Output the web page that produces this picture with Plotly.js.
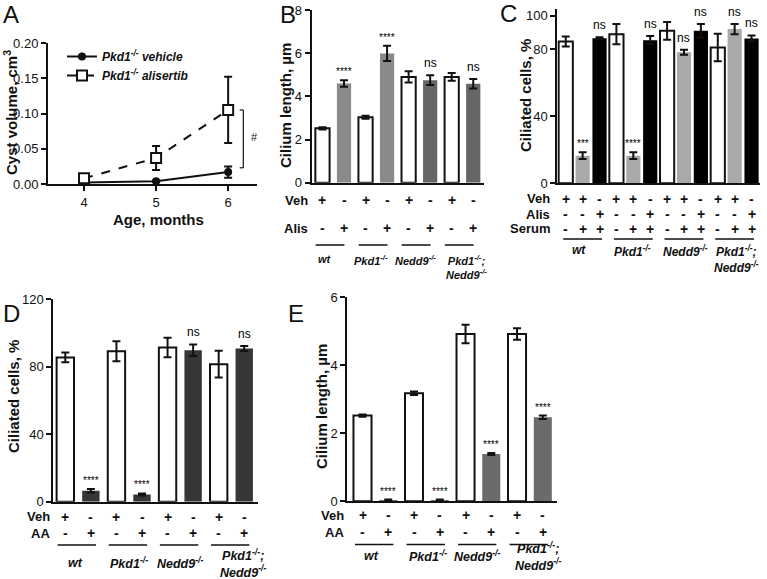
<!DOCTYPE html>
<html>
<head>
<meta charset="utf-8">
<script src="https://cdn.plot.ly/plotly-3.0.1.min.js"></script>
<style>html,body{margin:0;padding:0;background:#fff;}#chart{width:767px;height:579px;}</style>
</head>
<body>
<div id="chart"></div>
<script>
// ---------- DATA ----------
// Panel A: cyst volume over age
const ageMonths = [4, 5, 6];
const vehicleVol = [0.002, 0.004, 0.017];
const vehicleErr = [0.001, 0.001, 0.008];
const alisVol = [0.008, 0.037, 0.105];
const alisErr = [0.002, 0.017, 0.047];

// Group labels (shared)
const groupLabels = ['wt', 'Pkd1<sup>-/-</sup>', 'Nedd9<sup>-/-</sup>', 'Pkd1<sup>-/-</sup>;<br>Nedd9<sup>-/-</sup>'];

// Panel B: cilium length, Veh vs Alis
const bLen = [2.52, 4.60, 3.03, 5.99, 4.90, 4.75, 4.90, 4.58];
const bErr = [0.05, 0.15, 0.07, 0.35, 0.26, 0.23, 0.18, 0.22];
const bSig = ['', '****', '', '****', '', 'ns', '', 'ns'];
const pairVeh = ['+', '-', '+', '-', '+', '-', '+', '-'];
const pairTreat = ['-', '+', '-', '+', '-', '+', '-', '+'];

// Panel C: ciliated cells, Veh / Alis / Serum
const cPct = [84.6, 16.5, 86.6, 89.0, 16.5, 85.4, 91.0, 78.2, 91.0, 81.0, 92.0, 86.4];
const cErr = [3.0, 2.0, 0.5, 6.0, 2.0, 2.5, 5.3, 1.5, 4.0, 8.2, 3.0, 1.8];
const cSig = ['', '***', 'ns', '', '****', 'ns', '', 'ns', 'ns', '', 'ns', 'ns'];
const cVeh = ['+', '+', '-', '+', '+', '-', '+', '+', '-', '+', '+', '-'];
const cAlis = ['-', '-', '+', '-', '-', '+', '-', '-', '+', '-', '-', '+'];
const cSerum = ['-', '+', '+', '-', '+', '+', '-', '+', '+', '-', '+', '+'];

// Panel D: ciliated cells, Veh vs AA
const dPct = [85.4, 6.5, 89.1, 4.3, 91.3, 89.7, 81.4, 90.7];
const dErr = [2.9, 1.0, 5.9, 0.6, 5.8, 3.4, 7.9, 1.5];
const dSig = ['', '****', '', '****', '', 'ns', '', 'ns'];

// Panel E: cilium length, Veh vs AA
const eLen = [2.52, 0.04, 3.18, 0.04, 4.92, 1.39, 4.92, 2.47];
const eErr = [0.03, 0.01, 0.05, 0.01, 0.27, 0.03, 0.17, 0.05];
const eSig = ['', '****', '', '****', '', '****', '', '****'];

// ---------- LAYOUT HELPERS ----------
const W = 767, H = 579;
const X = p => p / W;
const Y = p => 1 - p / H;
const FONT = 'Liberation Sans, Arial, Helvetica, sans-serif';
const INK = '#111';

const traces = [];
const annotations = [];
const shapes = [];

function ann(o) {
  annotations.push(Object.assign({showarrow: false, xanchor: 'center', yanchor: 'middle',
    font: {family: FONT, size: 13, color: INK}}, o));
}

function yAxis(domain, range, tickvals, anchor, fmt) {
  return {
    domain: domain, range: range, anchor: anchor, tickvals: tickvals,
    tickformat: fmt || '', showline: true, linewidth: 2, linecolor: INK,
    ticks: 'outside', ticklen: 5, tickwidth: 2, tickcolor: INK,
    showgrid: false, zeroline: false, tickfont: {family: FONT, size: 13, color: INK},
    fixedrange: true
  };
}
function xAxis(domain, range, anchor) {
  return {
    domain: domain, range: range, anchor: anchor, showline: true, linewidth: 2,
    linecolor: INK, showticklabels: false, ticks: '', showgrid: false, zeroline: false,
    fixedrange: true
  };
}

// ---------- PANEL A ----------
traces.push({
  x: ageMonths, y: vehicleVol, xaxis: 'x', yaxis: 'y', type: 'scatter', mode: 'lines+markers',
  name: '<b><i>Pkd1<sup>-/-</sup> vehicle</i></b>',
  line: {color: INK, width: 2},
  marker: {symbol: 'circle', size: 8, color: INK},
  error_y: {type: 'data', array: vehicleErr, thickness: 2, width: 4, color: INK}
});
traces.push({
  x: ageMonths, y: alisVol, xaxis: 'x', yaxis: 'y', type: 'scatter', mode: 'lines+markers',
  name: '<b><i>Pkd1<sup>-/-</sup> alisertib</i></b>',
  line: {color: INK, width: 2, dash: 'dash'},
  marker: {symbol: 'square', size: 10, color: '#fff', line: {color: INK, width: 2}},
  error_y: {type: 'data', array: alisErr, thickness: 2, width: 4, color: INK}
});

const layout = {
  width: W, height: H, margin: {l: 0, r: 0, t: 0, b: 0},
  paper_bgcolor: '#fff', plot_bgcolor: 'rgba(0,0,0,0)',
  showlegend: true,
  legend: {x: X(62), y: Y(42), xanchor: 'left', yanchor: 'top', bgcolor: 'rgba(0,0,0,0)',
           font: {family: FONT, size: 12, color: INK}, itemwidth: 30, tracegroupgap: 0},
  xaxis: {domain: [X(48), X(257)], range: [3.5, 6.4], anchor: 'y', showline: true, linewidth: 2,
          linecolor: INK, ticks: 'outside', ticklen: 5, tickwidth: 2, tickcolor: INK, tickvals: ageMonths,
          showgrid: false, zeroline: false, tickfont: {family: FONT, size: 13, color: INK}},
  yaxis: yAxis([Y(184), Y(43)], [0, 0.2], [0, 0.05, 0.10, 0.15, 0.20], 'x', '.2f'),
};

// "#" bracket in panel A
const brTop = alisVol[2], brBot = vehicleVol[2] + vehicleErr[2] - 0.002;
shapes.push({type: 'line', xref: 'x', yref: 'y', x0: 6.21, x1: 6.21, y0: brTop, y1: brBot, line: {color: INK, width: 1.2}});
shapes.push({type: 'line', xref: 'x', yref: 'y', x0: 6.16, x1: 6.21, y0: brTop, y1: brTop, line: {color: INK, width: 1.2}});
shapes.push({type: 'line', xref: 'x', yref: 'y', x0: 6.16, x1: 6.21, y0: brBot, y1: brBot, line: {color: INK, width: 1.2}});
ann({xref: 'x', yref: 'y', x: 6.37, y: 0.066, text: '#', font: {family: FONT, size: 11, color: INK}});
ann({xref: 'paper', yref: 'paper', x: X(11), y: Y(113), text: '<b>Cyst volume, cm<sup>3</sup></b>', textangle: -90, font: {family: FONT, size: 15, color: INK}});
ann({xref: 'paper', yref: 'paper', x: X(158), y: Y(219), text: '<b>Age, months</b>', font: {family: FONT, size: 15, color: INK}});

// ---------- BAR PANEL BUILDER ----------
function barPanel(cfg) {
  const n = cfg.values.length;
  const xs = cfg.values.map((_, i) => i);
  traces.push({
    type: 'bar', x: xs, y: cfg.values, xaxis: cfg.xa, yaxis: cfg.ya, width: cfg.width,
    showlegend: false,
    marker: {color: xs.map(cfg.color), line: {color: xs.map(i => cfg.color(i) === '#fff' ? INK : cfg.color(i)), width: xs.map(i => cfg.color(i) === '#fff' ? 2 : 0)}},
    error_y: {type: 'data', array: cfg.errs, thickness: 2, width: cfg.capw || 4, color: INK}
  });
  const xref = cfg.xa;
  // significance labels
  cfg.sig.forEach((s, i) => {
    if (!s) return;
    const star = s.indexOf('*') >= 0;
    ann({xref: xref, yref: cfg.ya, x: i, y: cfg.values[i] + cfg.errs[i], yanchor: 'bottom', yshift: star ? 1 : 3,
         text: s, font: {family: FONT, size: star ? 10 : 12, color: '#000'}});
  });
  // sign rows
  cfg.rows.forEach(r => {
    ann({xref: 'paper', yref: 'paper', x: X(cfg.rowLabelX), y: Y(r.y), xanchor: 'right', text: '<b>' + r.label + '</b>'});
    r.signs.forEach((s, i) => {
      ann({xref: xref, yref: 'paper', x: i, y: Y(r.y), text: '<b>' + s + '</b>', font: {family: FONT, size: 14, color: INK}});
    });
  });
  // group lines and labels
  const per = n / 4;
  for (let g = 0; g < 4; g++) {
    shapes.push({type: 'line', xref: xref, yref: 'paper', x0: g * per + cfg.lineFrom, x1: g * per + cfg.lineTo,
                 y0: Y(cfg.lineY), y1: Y(cfg.lineY), line: {color: INK, width: 1.5}});
    ann({xref: xref, yref: 'paper', x: cfg.labelX[g], y: Y(cfg.labelY),
         yanchor: cfg.labelAnchor, text: '<b><i>' + groupLabels[g] + '</i></b>',
         font: {family: FONT, size: cfg.labelSize, color: INK}});
  }
}

// ---------- PANEL B ----------
layout.xaxis2 = xAxis([X(311.7), X(484)], [-0.5, 7.5], 'y2');
layout.yaxis2 = yAxis([Y(182.7), Y(10)], [0, 8], [0, 2, 4, 6, 8], 'x2');
barPanel({
  xa: 'x2', ya: 'y2', values: bLen, errs: bErr, sig: bSig, width: 0.66,
  color: i => i % 2 === 0 ? '#fff' : (i < 4 ? '#8a8a8a' : '#666'),
  rows: [{label: 'Veh', y: 200, signs: pairVeh}, {label: 'Alis', y: 228, signs: pairTreat}],
  rowLabelX: 310, lineY: 245, lineFrom: -0.32, lineTo: 1.02, labelY: 251, labelAnchor: 'top',
  labelX: [0.1, 2.25, 4.3, 6.7], labelSize: 11
});
ann({xref: 'paper', yref: 'paper', x: X(285), y: Y(106), text: '<b>Cilium length, \u00b5m</b>', textangle: -90, font: {family: FONT, size: 15, color: INK}});

// ---------- PANEL C ----------
layout.xaxis3 = xAxis([X(557.3), X(760)], [-0.5, 11.5], 'y3');
layout.yaxis3 = yAxis([Y(183.3), Y(9)], [0, 104], [0, 40, 80, 100], 'x3');
barPanel({
  xa: 'x3', ya: 'y3', values: cPct, errs: cErr, sig: cSig, width: 0.84,
  color: i => ['#fff', '#a9a9a9', '#000'][i % 3],
  rows: [{label: 'Veh', y: 199, signs: cVeh}, {label: 'Alis', y: 214, signs: cAlis}, {label: 'Serum', y: 229, signs: cSerum}],
  rowLabelX: 552, lineY: 239, lineFrom: -0.15, lineTo: 2.15, labelY: 241, labelAnchor: 'top',
  labelX: [0.76, 3.95, 7.1, 10.1], labelSize: 12
});
ann({xref: 'paper', yref: 'paper', x: X(525), y: Y(96), text: '<b>Ciliated cells, %</b>', textangle: -90, font: {family: FONT, size: 15, color: INK}});

// ---------- PANEL D ----------
layout.xaxis4 = xAxis([X(53.3), X(258.3)], [-0.47, 7.55], 'y4');
layout.yaxis4 = yAxis([Y(501.7), Y(299)], [0, 120], [0, 40, 80, 120], 'x4');
barPanel({
  xa: 'x4', ya: 'y4', values: dPct, errs: dErr, sig: dSig, width: 0.68,
  color: i => i % 2 === 0 ? '#fff' : '#363636',
  rows: [{label: 'Veh', y: 516.5, signs: pairVeh}, {label: 'AA', y: 533, signs: pairTreat}],
  rowLabelX: 52, lineY: 545, lineFrom: -0.3, lineTo: 1.2, labelY: 563, labelAnchor: 'middle',
  labelX: [0.4, 2.5, 4.49, 6.99], labelSize: 12.5
});
ann({xref: 'paper', yref: 'paper', x: X(13), y: Y(397), text: '<b>Ciliated cells, %</b>', textangle: -90, font: {family: FONT, size: 15, color: INK}});

// ---------- PANEL E ----------
layout.xaxis5 = xAxis([X(347.3), X(556.7)], [-0.59, 7.54], 'y5');
layout.yaxis5 = yAxis([Y(501.3), Y(297.3)], [0, 6], [0, 2, 4, 6], 'x5');
barPanel({
  xa: 'x5', ya: 'y5', values: eLen, errs: eErr, sig: eSig, width: 0.7,
  color: i => i % 2 === 0 ? '#fff' : '#6b6b6b',
  rows: [{label: 'Veh', y: 515, signs: pairVeh}, {label: 'AA', y: 532, signs: pairTreat}],
  rowLabelX: 346, lineY: 544.5, lineFrom: -0.29, lineTo: 1.2, labelY: 556, labelAnchor: 'middle',
  labelX: [0.36, 2.53, 4.47, 6.84], labelSize: 12.5
});
ann({xref: 'paper', yref: 'paper', x: X(321), y: Y(407), text: '<b>Cilium length, \u00b5m</b>', textangle: -90, font: {family: FONT, size: 15, color: INK}});

// ---------- PANEL LETTERS ----------
[['A', 11, 15], ['B', 288, 14], ['C', 509, 13], ['D', 11, 313], ['E', 296, 313]].forEach(p => {
  ann({xref: 'paper', yref: 'paper', x: X(p[1]), y: Y(p[2]), text: p[0], font: {family: FONT, size: 24, color: INK}});
});

layout.annotations = annotations;
layout.shapes = shapes;

Plotly.newPlot('chart', traces, layout, {displayModeBar: false, staticPlot: true});
</script>
</body>
</html>
